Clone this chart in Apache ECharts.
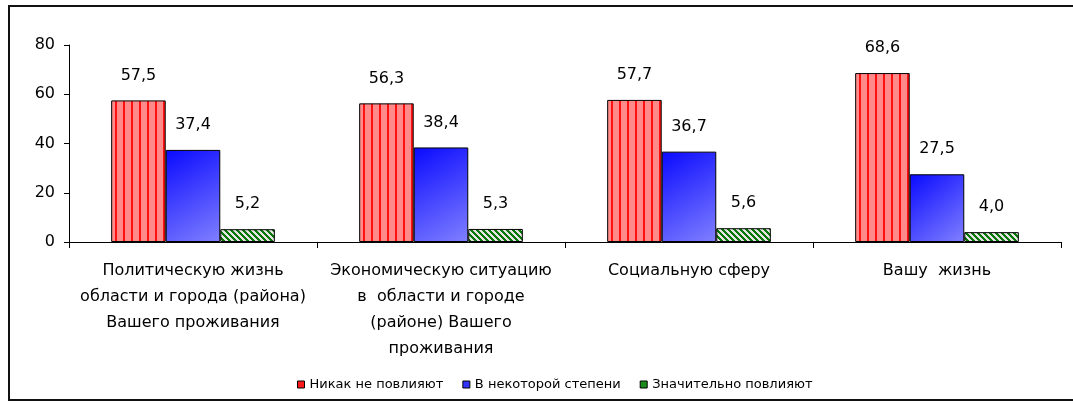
<!DOCTYPE html>
<html>
<head>
<meta charset="utf-8">
<script src="https://cdn.jsdelivr.net/npm/echarts@6/dist/echarts.min.js"></script>
<style>
  html, body { margin: 0; padding: 0; background: #fff; overflow: hidden; }
  #chart { width: 1073px; height: 403px; }
</style>
</head>
<body>
<div id="chart"></div>
<script>
// Categories (what the answer is about)
const categories = [
  'Политическую жизнь\nобласти и города (района)\nВашего проживания',
  'Экономическую ситуацию\nв  области и городе\n(районе) Вашего\nпроживания',
  'Социальную сферу',
  'Вашу  жизнь'
];
// Series names
const seriesNames = ['Никак не повлияют', 'В некоторой степени', 'Значительно повлияют'];
// Values, %
const noInfluence = [57.5, 56.3, 57.7, 68.6];
const someDegree = [37.4, 38.4, 36.7, 27.5];
const significant = [5.2, 5.3, 5.6, 4.0];
// Value axis ticks
const yTicks = [0, 20, 40, 60, 80];

const FONT = 'DejaVu Sans';

// Fill patterns
function redStripes() {
  const c = document.createElement('canvas');
  c.width = 8; c.height = 8;
  const g = c.getContext('2d');
  g.fillStyle = '#ff8a8a';
  g.fillRect(0, 0, 8, 8);
  g.fillStyle = '#ff1010';
  g.fillRect(3, 0, 2, 8);
  return c;
}
function greenHatch() {
  const c = document.createElement('canvas');
  c.width = 6; c.height = 6;
  const g = c.getContext('2d');
  g.fillStyle = '#e4e4e4';
  g.fillRect(0, 0, 6, 6);
  g.fillStyle = '#087808';
  for (let y = 0; y < 6; y++) {
    for (let x = 0; x < 6; x++) {
      if (((x - y) % 6 + 6) % 6 < 3) g.fillRect(x, y, 1, 1);
    }
  }
  return c;
}

const fmt = p => p.value.toFixed(1).replace('.', ',');

const labelStyle = {
  show: true,
  position: 'top',
  distance: 17,
  color: '#000',
  fontFamily: FONT,
  fontSize: 16,
  formatter: fmt
};
const barBorder = { borderColor: '#000', borderWidth: 1 };

// Frame: left, top and bottom edges (the right edge runs off the page)
const frameLine = (x1, y1, x2, y2) => ({
  type: 'line',
  shape: { x1, y1, x2, y2 },
  style: { stroke: '#111', lineWidth: 2 },
  silent: true,
  z: 100
});

const chart = echarts.init(document.getElementById('chart'), null, { renderer: 'canvas' });

chart.setOption({
  animation: false,
  backgroundColor: '#fff',
  graphic: [
    frameLine(9, 5, 9, 401),
    frameLine(8, 6, 1100, 6),
    frameLine(8, 400, 1100, 400)
  ],
  grid: { left: 69, right: 12, top: 45, bottom: 161, containLabel: false },
  legend: {
    left: 292,
    top: 373,
    icon: 'rect',
    itemWidth: 7,
    itemHeight: 7,
    itemGap: 19,
    textStyle: { fontFamily: FONT, fontSize: 13, color: '#000' },
    data: [
      { name: seriesNames[0], itemStyle: { color: '#ff1a1a', borderColor: '#000', borderWidth: 1 } },
      { name: seriesNames[1], itemStyle: { color: '#3333ff', borderColor: '#000', borderWidth: 1 } },
      { name: seriesNames[2], itemStyle: { color: '#1a8a1a', borderColor: '#000', borderWidth: 1 } }
    ]
  },
  xAxis: {
    type: 'category',
    data: categories,
    axisLine: { show: true, lineStyle: { color: '#000', width: 1 } },
    axisTick: { show: true, alignWithLabel: false, length: 6, lineStyle: { color: '#000' } },
    axisLabel: {
      interval: 0,
      margin: 16,
      color: '#000',
      fontFamily: FONT,
      fontSize: 16,
      lineHeight: 26,
      align: 'center'
    },
    splitLine: { show: false }
  },
  yAxis: {
    type: 'value',
    min: yTicks[0],
    max: yTicks[yTicks.length - 1],
    interval: yTicks[1] - yTicks[0],
    axisLine: { show: true, lineStyle: { color: '#000', width: 1 } },
    axisTick: { show: true, inside: false, length: 5, lineStyle: { color: '#000' } },
    axisLabel: { margin: 14, color: '#000', fontFamily: FONT, fontSize: 16 },
    splitLine: { show: false }
  },
  series: [
    {
      name: seriesNames[0],
      type: 'bar',
      data: noInfluence,
      barGap: '0%',
      barCategoryGap: '34%',
      itemStyle: Object.assign({ color: { image: redStripes(), repeat: 'repeat' } }, barBorder),
      label: labelStyle
    },
    {
      name: seriesNames[1],
      type: 'bar',
      data: someDegree,
      barGap: '0%',
      barCategoryGap: '34%',
      itemStyle: Object.assign({
        color: new echarts.graphic.LinearGradient(0, 0, 1, 1, [
          { offset: 0, color: '#0a0aff' },
          { offset: 1, color: '#8080ff' }
        ])
      }, barBorder),
      label: labelStyle
    },
    {
      name: seriesNames[2],
      type: 'bar',
      data: significant,
      barGap: '0%',
      barCategoryGap: '34%',
      itemStyle: Object.assign({ color: { image: greenHatch(), repeat: 'repeat' } }, barBorder),
      label: labelStyle
    }
  ]
});
</script>
</body>
</html>
